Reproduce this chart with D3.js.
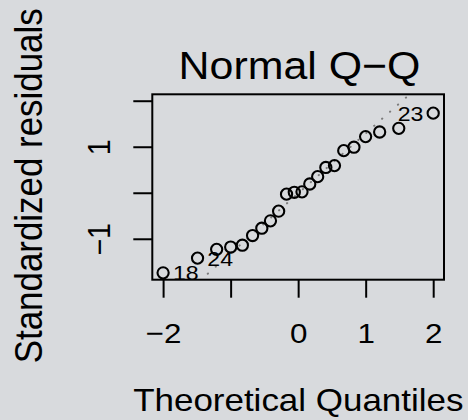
<!DOCTYPE html>
<html>
<head>
<meta charset="utf-8">
<script src="https://cdn.jsdelivr.net/npm/d3@7"></script>
<style>
  html, body { margin: 0; padding: 0; background: #d8dadd; }
  svg { display: block; }
  text { font-family: "Liberation Sans", Arial, Helvetica, sans-serif; fill: #000; }
</style>
</head>
<body>
<svg id="chart" width="468" height="420"></svg>
<script>
// Theoretical normal quantiles (n = 22) and the sorted standardized residuals
const theoretical = [-2.000, -1.490, -1.207, -0.999, -0.826, -0.675, -0.538, -0.410, -0.289, -0.172, -0.057,
                      0.057,  0.172,  0.289,  0.410,  0.538,  0.675,  0.826,  0.999,  1.207,  1.490,  2.000];
const residuals   = [-1.74, -1.42, -1.23, -1.18, -1.14, -0.93, -0.77, -0.61, -0.40, -0.03, 0.01,
                      0.02,  0.19,  0.35,  0.55,  0.59,  0.915, 0.99,  1.22,  1.32,  1.40,  1.73];
// Observation ids for the three largest |residuals|
const idIndex  = [0, 1, 21];
const idLabels = ["18", "24", "23"];
// Reference line through the quartiles
const qqIntercept = -0.014;
const qqSlope = 1.304;

const xTicks = [-2, -1, 0, 1, 2];
const xTickLabels = ["\u22122", "", "0", "1", "2"];
const yTicks = [-1, 0, 1, 2];
const yTickLabels = ["\u22121", "", "1", ""];

const svg = d3.select("#chart");
const W = 468, H = 420;
const box = { left: 152.3, right: 444, top: 94.3, bottom: 279.7 };
const stretch = 1.1;

svg.append("rect").attr("width", W).attr("height", H).attr("fill", "#d8dadd");

// Axis limits the way R's qqnorm in plot.lm builds them
const xr = d3.extent(theoretical);
const xpad = (xr[1] - xr[0]) * 0.04;
const yr = d3.extent(residuals);
yr[1] = yr[1] + (yr[1] - yr[0]) * 0.075;
const ypad = (yr[1] - yr[0]) * 0.04;

const x = d3.scaleLinear().domain([xr[0] - xpad, xr[1] + xpad]).range([box.left, box.right]);
const y = d3.scaleLinear().domain([yr[0] - ypad, yr[1] + ypad]).range([box.bottom, box.top]);

svg.append("clipPath").attr("id", "plotclip")
  .append("rect")
  .attr("x", box.left).attr("y", box.top)
  .attr("width", box.right - box.left).attr("height", box.bottom - box.top);

// Dotted reference line
const xd = x.domain();
svg.append("line")
  .attr("clip-path", "url(#plotclip)")
  .attr("x1", x(xd[0])).attr("y1", y(qqIntercept + qqSlope * xd[0]))
  .attr("x2", x(xd[1])).attr("y2", y(qqIntercept + qqSlope * xd[1]))
  .attr("stroke", "#7c7c7c").attr("stroke-width", 2)
  .attr("stroke-linecap", "round")
  .attr("stroke-dasharray", "0.3 10.3");

// Points
svg.append("g").selectAll("circle")
  .data(theoretical.map((t, i) => [t, residuals[i]]))
  .join("circle")
  .attr("cx", d => x(d[0])).attr("cy", d => y(d[1]))
  .attr("r", 5.6)
  .attr("fill", "none").attr("stroke", "#000").attr("stroke-width", 2.1);

// Id labels
svg.append("g").selectAll("text")
  .data(idIndex)
  .join("text")
  .attr("transform", k => {
    const px = x(theoretical[k]), py = y(residuals[k]);
    const right = theoretical[k] < 0;
    return `translate(${right ? px + 9.8 : px - 9.8},${py}) scale(${stretch},1)`;
  })
  .attr("text-anchor", k => theoretical[k] < 0 ? "start" : "end")
  .attr("dy", "0.36em")
  .style("font-size", "21px")
  .text((k, j) => idLabels[j]);

// Plot frame
svg.append("rect")
  .attr("x", box.left).attr("y", box.top)
  .attr("width", box.right - box.left).attr("height", box.bottom - box.top)
  .attr("fill", "none").attr("stroke", "#000").attr("stroke-width", 2);

// Bottom axis
const gx = svg.append("g")
  .attr("transform", `translate(0,${box.bottom})`)
  .call(d3.axisBottom(x).tickValues(xTicks).tickSize(18).tickSizeOuter(0)
        .tickFormat((d, i) => xTickLabels[i]));
gx.select(".domain").remove();
gx.selectAll(".tick line").attr("stroke", "#000").attr("stroke-width", 2);
gx.selectAll(".tick text")
  .attr("y", null).attr("dy", null)
  .attr("transform", `translate(0,63) scale(${stretch},1)`)
  .style("font-size", "28.5px")
  .attr("font-family", null);

// Left axis
const gy = svg.append("g")
  .attr("transform", `translate(${box.left},0)`)
  .call(d3.axisLeft(y).tickValues(yTicks).tickSize(19).tickSizeOuter(0)
        .tickFormat((d, i) => yTickLabels[i]));
gy.select(".domain").remove();
gy.selectAll(".tick line").attr("stroke", "#000").attr("stroke-width", 2);
gy.selectAll(".tick text")
  .attr("x", null).attr("dy", null)
  .attr("text-anchor", "middle")
  .attr("transform", `translate(-42.3,0) scale(${stretch},1) rotate(-90)`)
  .style("font-size", "28.5px")
  .attr("font-family", null);

// Titles
svg.append("text")
  .attr("transform", `translate(299.5,79.3) scale(${stretch},1)`)
  .attr("text-anchor", "middle")
  .style("font-size", "39px")
  .text("Normal Q\u2212Q");

svg.append("text")
  .attr("transform", `translate(298.3,410.7) scale(${stretch},1)`)
  .attr("text-anchor", "middle")
  .style("font-size", "31.8px")
  .text("Theoretical Quantiles");

svg.append("text")
  .attr("transform", `translate(41.7,185.8) scale(${stretch},1) rotate(-90)`)
  .attr("text-anchor", "middle")
  .style("font-size", "34.9px")
  .text("Standardized residuals");
</script>
</body>
</html>
